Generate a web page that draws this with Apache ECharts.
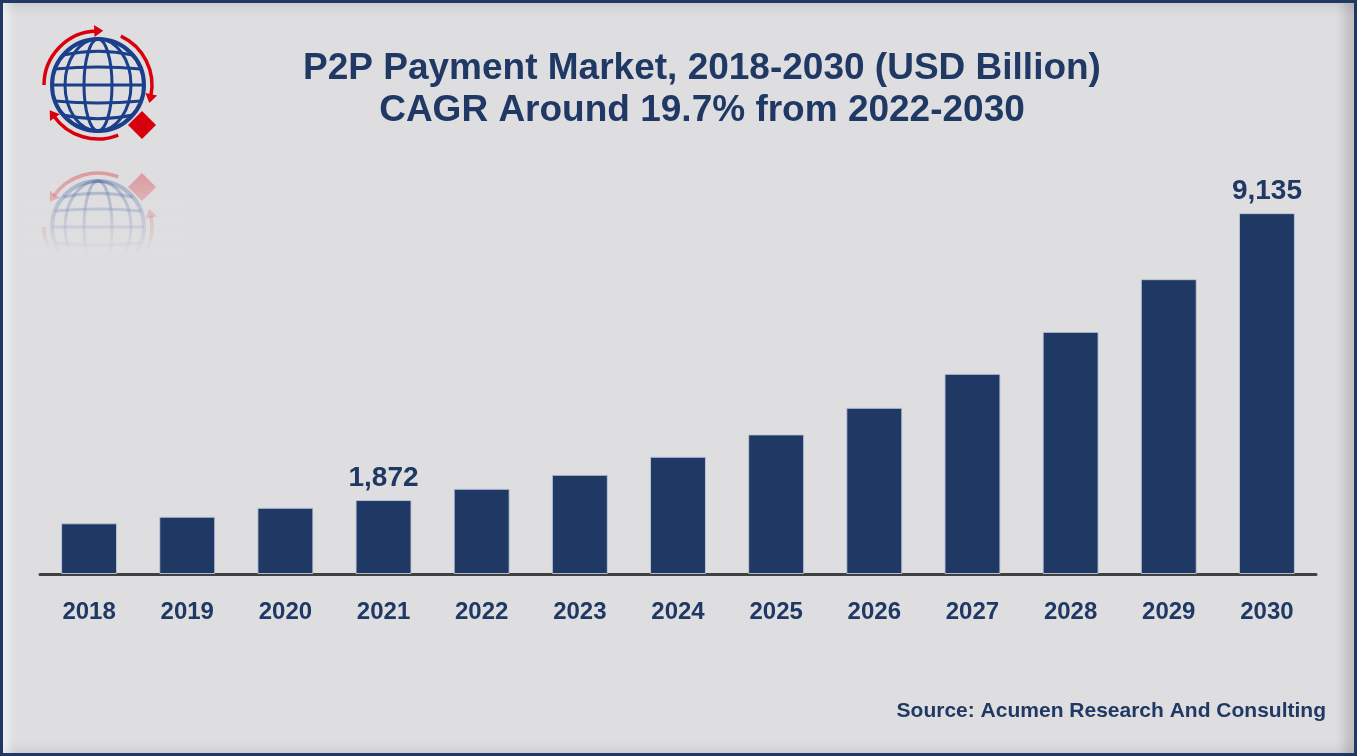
<!DOCTYPE html>
<html>
<head>
<meta charset="utf-8">
<script src="https://cdn.jsdelivr.net/npm/echarts@6/dist/echarts.min.js"></script>
<style>
  html, body { margin: 0; padding: 0; background: #dedee0; }
  #frame {
    position: absolute; left: 0; top: 0; width: 1357px; height: 756px;
    box-sizing: border-box; border: 3px solid #1f3864; background: #dedee0;
    box-shadow: inset 12px 0 8px -6px rgba(255,255,255,0.55),
                inset -16px 0 10px -6px rgba(0,0,0,0.14),
                inset 0 14px 10px -8px rgba(0,0,0,0.07),
                inset 0 -12px 8px -6px rgba(0,0,0,0.06);
  }
  #main { position: absolute; left: 0; top: 0; width: 1357px; height: 756px; }
</style>
</head>
<body>
<div id="frame"></div>
<div id="main"></div>
<script>
var years = ['2018', '2019', '2020', '2021', '2022', '2023', '2024', '2025', '2026', '2027', '2028', '2029', '2030'];
var market = [1283, 1450, 1677, 1872, 2158, 2512, 2968, 3534, 4207, 5068, 6130, 7464, 9135];
var labelled = ['2021', '2030'];
var titleLines = ['P2P Payment Market, 2018-2030 (USD Billion)', 'CAGR Around 19.7% from 2022-2030'];
var sourceText = 'Source: Acumen Research And Consulting';

var navy = '#1f3864';
var font = 'Arial, "Liberation Sans", sans-serif';

var dom = document.getElementById('main');
var myChart = echarts.init(dom);
window.addEventListener('resize', function () {
    myChart.resize();
});

// logo: globe with three red arrows and a diamond
function logo(op) {
    var cx = 98, cy = 85, r = 46, ra = 54;
    var blue = '#1b3f8b', red = '#d9000d';
    var els = [];
    els.push({ type: 'circle', shape: { cx: cx, cy: cy, r: r }, style: { fill: 'none', stroke: blue, lineWidth: 4, opacity: op } });
    els.push({ type: 'ellipse', shape: { cx: cx, cy: cy, rx: 14, ry: r }, style: { fill: 'none', stroke: blue, lineWidth: 3, opacity: op } });
    els.push({ type: 'ellipse', shape: { cx: cx, cy: cy, rx: 33, ry: r }, style: { fill: 'none', stroke: blue, lineWidth: 3, opacity: op } });
    [-30, -16, 0, 16, 30].forEach(function (d) {
        var h = Math.sqrt(r * r - d * d);
        els.push({ type: 'bezierCurve', shape: { x1: cx - h, y1: cy + d, cpx1: cx, cpy1: cy + d + d * 0.25, x2: cx + h, y2: cy + d },
            style: { fill: 'none', stroke: blue, lineWidth: 3, opacity: op } });
    });
    [[Math.PI, 4.68], [-1.134, 0.209], [1.187, 2.531]].forEach(function (a) {
        els.push({ type: 'arc', shape: { cx: cx, cy: cy, r: ra, startAngle: a[0], endAngle: a[1], clockwise: true },
            style: { fill: 'none', stroke: red, lineWidth: 3.5, opacity: op } });
        var t = a[1];
        var px = cx + ra * Math.cos(t), py = cy + ra * Math.sin(t);
        var tx = -Math.sin(t), ty = Math.cos(t);
        var nx = Math.cos(t), ny = Math.sin(t);
        els.push({ type: 'polygon', shape: { points: [
            [px + tx * 7, py + ty * 7],
            [px + nx * 6 - tx * 2, py + ny * 6 - ty * 2],
            [px - nx * 6 - tx * 2, py - ny * 6 - ty * 2]
        ] }, style: { fill: red, opacity: op } });
    });
    els.push({ type: 'polygon', shape: { points: [[142, 111], [156, 125], [142, 139], [128, 125]] }, style: { fill: red, opacity: op } });
    return els;
}

var graphics = [
    { type: 'group', children: logo(1) },
    { type: 'group', y: 312, scaleY: -1, children: logo(0.32) },
    { type: 'rect', shape: { x: 25, y: 168, width: 160, height: 140 },
      style: { fill: new echarts.graphic.LinearGradient(0, 0, 0, 1, [
          { offset: 0, color: 'rgba(222,222,224,0)' },
          { offset: 0.62, color: 'rgba(222,222,224,1)' },
          { offset: 1, color: 'rgba(222,222,224,1)' }]) } },
    { type: 'text', x: 702, y: 69, style: { text: titleLines[0], fill: navy, font: 'bold 37px ' + font, textAlign: 'center', textVerticalAlign: 'middle' } },
    { type: 'text', x: 702, y: 111, style: { text: titleLines[1], fill: navy, font: 'bold 37px ' + font, textAlign: 'center', textVerticalAlign: 'middle' } },
    { type: 'text', x: 1326, y: 722, style: { text: sourceText, fill: navy, font: 'bold 21px ' + font, textAlign: 'right', textVerticalAlign: 'bottom' } }
];

var barData = market.map(function (v, i) {
    return {
        value: v,
        label: { show: labelled.indexOf(years[i]) >= 0 }
    };
});

option = {
    animation: false,
    grid: { left: 40, right: 41, top: 179, bottom: 182 },
    xAxis: {
        type: 'category',
        data: years,
        axisLine: { lineStyle: { color: '#404040', width: 3 } },
        axisTick: { show: false },
        axisLabel: { color: navy, fontSize: 24, fontWeight: 'bold', fontFamily: font, margin: 26 }
    },
    yAxis: {
        type: 'value', min: 0, max: 10000,
        show: false, splitLine: { show: false }
    },
    series: [{
        type: 'bar',
        data: barData,
        barWidth: '57%',
        itemStyle: { color: '#203864', borderColor: 'rgba(190,200,220,0.9)', borderWidth: 1 },
        label: {
            position: 'top', distance: 8,
            color: navy, fontSize: 28, fontWeight: 'bold', fontFamily: font,
            formatter: function (p) { return p.value.toLocaleString('en-US'); }
        }
    }],
    graphic: graphics
};

if (option && typeof option === 'object') {
    myChart.setOption(option, true);
}
</script>
</body>
</html>
